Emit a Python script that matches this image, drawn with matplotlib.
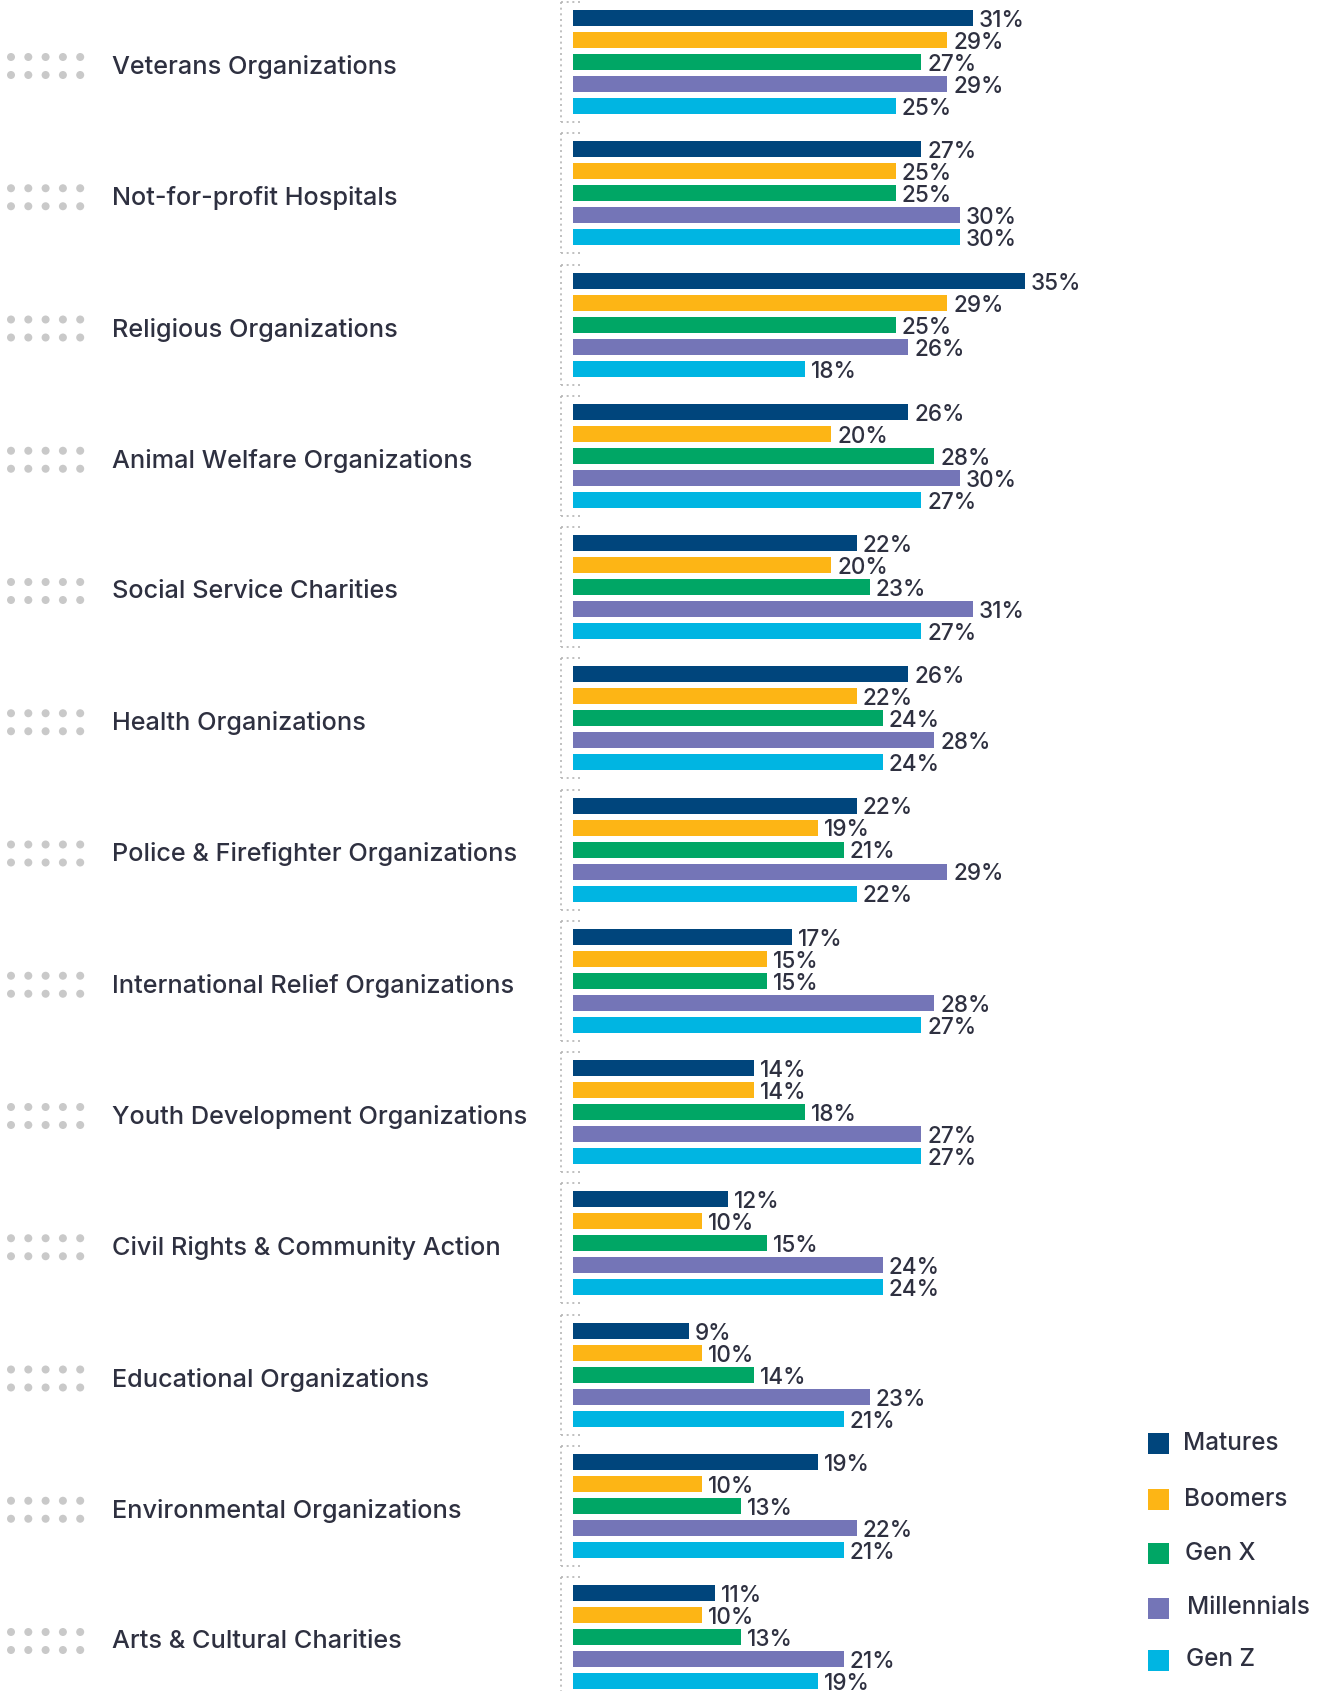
import matplotlib
matplotlib.use("Agg")
import matplotlib.pyplot as plt
from matplotlib.patches import Circle, Rectangle

categories = [
    "Veterans Organizations",
    "Not-for-profit Hospitals",
    "Religious Organizations",
    "Animal Welfare Organizations",
    "Social Service Charities",
    "Health Organizations",
    "Police & Firefighter Organizations",
    "International Relief Organizations",
    "Youth Development Organizations",
    "Civil Rights & Community Action",
    "Educational Organizations",
    "Environmental Organizations",
    "Arts & Cultural Charities",
]
series_names = ["Matures", "Boomers", "Gen X", "Millennials", "Gen Z"]
matures     = [31, 27, 35, 26, 22, 26, 22, 17, 14, 12, 9, 19, 11]
boomers     = [29, 25, 29, 20, 20, 22, 19, 15, 14, 10, 10, 10, 10]
genx        = [27, 25, 25, 28, 23, 24, 21, 15, 18, 15, 14, 13, 13]
millennials = [29, 30, 26, 30, 31, 28, 29, 28, 27, 24, 23, 22, 21]
genz        = [25, 30, 18, 27, 27, 24, 22, 27, 27, 24, 21, 21, 19]
series = [matures, boomers, genx, millennials, genz]
colors = ["#00457c", "#fdb515", "#00a665", "#7475b7", "#00b5e2"]

W, H = 1321, 1691
DPI = 100
fig = plt.figure(figsize=(W / DPI, H / DPI), dpi=DPI)
FONT = ["Inter", "DejaVu Sans"]
TXT = "#2e3040"

def pt(px):
    return px * 72 / DPI

# background axes in pixel coordinates
bg = fig.add_axes([0, 0, 1, 1])
bg.set_xlim(0, W)
bg.set_ylim(H, 0)
bg.axis("off")

PITCH = 131.25
STEP = 22
FIRST = 18
BAR_H = 16
X0 = 573
PX_PER_PCT = 400 / 31

# bar axes: x in percent
bx = fig.add_axes([X0 / W, 0, (W - X0) / W, 1])
bx.set_xlim(0, (W - X0) / PX_PER_PCT)
bx.set_ylim(H, 0)
bx.axis("off")
bx.patch.set_alpha(0)

for g, cat in enumerate(categories):
    gy = FIRST + g * PITCH
    for j, (vals, col) in enumerate(zip(series, colors)):
        y = gy + j * STEP
        v = vals[g]
        bx.barh(y, v, height=BAR_H, color=col, left=0)
        bx.annotate(f"{v}%", xy=(v, y), xytext=(6, -3), textcoords="offset pixels",
                    ha="left", va="center", fontsize=pt(22.5), color=TXT,
                    family=FONT, fontweight="medium")
    # bracket
    top = gy - BAR_H / 2 - 8
    bot = gy + 4 * STEP + BAR_H / 2 + 8
    ls = (0, (1.2, 2.2))
    bg.plot([561, 561], [top, bot], color="#b5b5b5", lw=1.2, linestyle=ls)
    bg.plot([561, 582], [top, top], color="#b5b5b5", lw=1.2, linestyle=ls)
    bg.plot([561, 582], [bot, bot], color="#b5b5b5", lw=1.2, linestyle=ls)
    # dots
    cy = gy + 2 * STEP + 4
    for r in (-9, 9):
        for c in range(5):
            bg.add_patch(Circle((11 + c * 17.3, cy + r), 4, color="#c9c9c9", lw=0))
    # label
    bg.text(112, cy + 1, cat, ha="left", va="center", fontsize=pt(25.3), color=TXT,
            family=FONT, fontweight="medium")

# legend
leg_y = [1443, 1499, 1553, 1608, 1660]
leg_x = [1183, 1184, 1185, 1187, 1186]
for name, col, ly, lx in zip(series_names, colors, leg_y, leg_x):
    bg.add_patch(Rectangle((1148, ly - 10.5), 21, 21, color=col, lw=0))
    bg.text(lx, ly, name, ha="left", va="center", fontsize=pt(24.3), color=TXT,
            family=FONT, fontweight="medium")

fig.savefig("out.png", dpi=DPI)
